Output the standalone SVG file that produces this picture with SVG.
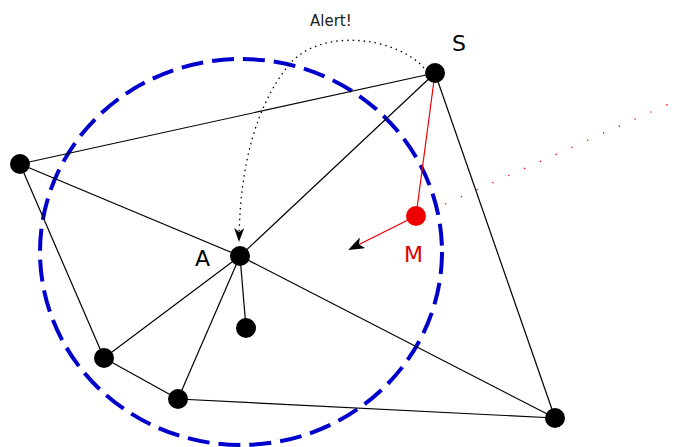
<svg xmlns="http://www.w3.org/2000/svg" width="680" height="447" viewBox="0 0 680 447">
<defs>
<style>
.e{stroke:#000;stroke-width:1.2;fill:none}
.n{fill:#000}
.lbl{font-family:"DejaVu Sans",sans-serif;font-size:22px}
</style>
<marker id="ah" viewBox="0 0 14 10" refX="12" refY="5" markerWidth="14" markerHeight="10" markerUnits="userSpaceOnUse" orient="auto">
<path d="M0,0 L14,5 L0,10 L4,5 Z" fill="#000"/>
</marker>
<marker id="ah2" viewBox="0 0 16 12" refX="14" refY="6" markerWidth="16" markerHeight="12" markerUnits="userSpaceOnUse" orient="auto">
<path d="M0,0 L16,6 L0,12 L4,6 Z" fill="#000"/>
</marker>
</defs>
<rect width="680" height="447" fill="#fff"/>
<ellipse cx="241" cy="252" rx="201" ry="193" fill="none" stroke="#0000cc" stroke-width="4" stroke-dasharray="22,9"/>
<g id="connectors">
<line class="e" x1="435" y1="73" x2="20" y2="164"/>
<line class="e" x1="435" y1="73" x2="240" y2="256"/>
<line class="e" x1="435" y1="73" x2="555" y2="418"/>
<line class="e" x1="20" y1="164" x2="240" y2="256"/>
<line class="e" x1="240" y1="256" x2="555" y2="418"/>
<line class="e" x1="20" y1="164" x2="104" y2="358"/>
<line class="e" x1="240" y1="256" x2="104" y2="358"/>
<line class="e" x1="240" y1="256" x2="178" y2="399"/>
<line class="e" x1="240" y1="256" x2="246" y2="328"/>
<line class="e" x1="104" y1="358" x2="178" y2="399"/>
<line class="e" x1="178" y1="399" x2="555" y2="418"/>
<line x1="435" y1="73" x2="416" y2="216" stroke="#e00" stroke-width="1.2"/>
<line x1="416" y1="216" x2="350" y2="249" stroke="#e00" stroke-width="1.3" marker-end="url(#ah2)"/>
<line x1="445" y1="204" x2="680" y2="99" stroke="#e00" stroke-width="1.3" stroke-dasharray="1.3,16"/>
<path d="M424 68 C398 38 320 25 287 67 C258 105 240 160 239 240" fill="none" stroke="#000" stroke-width="1.3" stroke-dasharray="1.5,4" marker-end="url(#ah)"/>
</g>
<g id="S"><circle class="n" cx="435" cy="73" r="10"/><text class="lbl" x="452" y="51">S</text></g>
<g id="L"><circle class="n" cx="20" cy="164" r="10"/></g>
<g id="A"><circle class="n" cx="240" cy="256" r="10"/><text class="lbl" x="195" y="266">A</text></g>
<g id="B"><circle class="n" cx="246" cy="328" r="10"/></g>
<g id="C"><circle class="n" cx="104" cy="358" r="10"/></g>
<g id="D"><circle class="n" cx="178" cy="399" r="10"/></g>
<g id="E"><circle class="n" cx="555" cy="418" r="10"/></g>
<g id="M"><circle cx="416" cy="216" r="10" fill="#e00"/><text class="lbl" x="404" y="262" fill="#d00">M</text></g>
<text x="310" y="26" font-family="DejaVu Sans,sans-serif" font-size="15" fill="#222">Alert!</text>
</svg>
